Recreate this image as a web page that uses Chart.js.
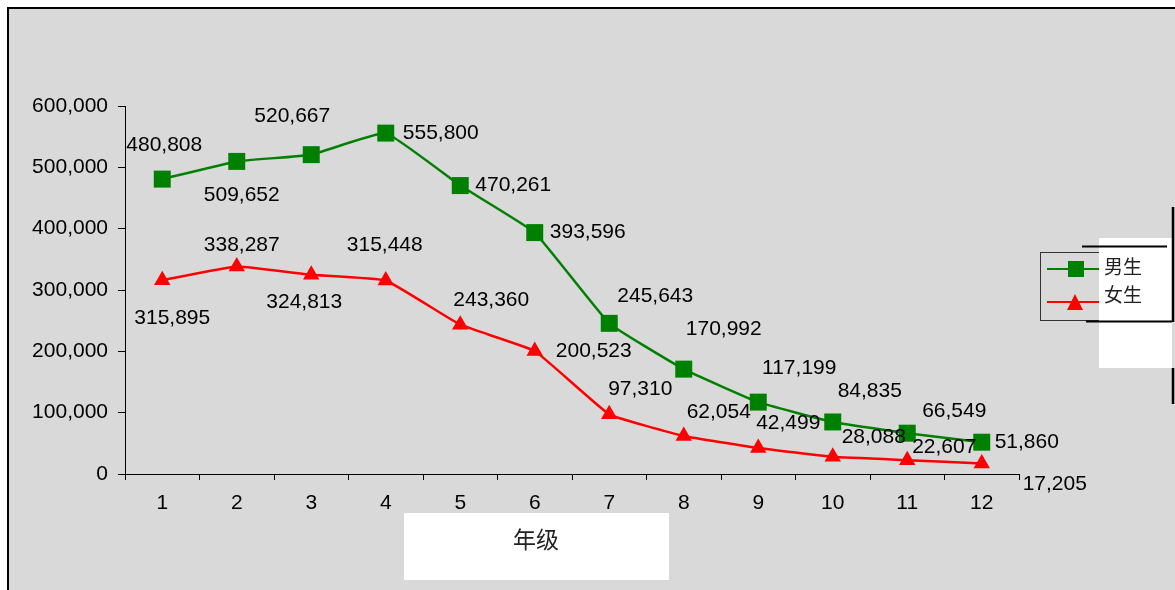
<!DOCTYPE html>
<html>
<head>
<meta charset="utf-8">
<script src="https://cdn.jsdelivr.net/npm/chart.js@4"></script>
<style>
  html, body { margin: 0; padding: 0; background: #fff; }
  #chart { display: block; }
</style>
</head>
<body>
<canvas id="chart" width="1175" height="590"></canvas>
<script>
const grades = ['1', '2', '3', '4', '5', '6', '7', '8', '9', '10', '11', '12']
const boys = [480808, 509652, 520667, 555800, 470261, 393596, 245643, 170992, 117199, 84835, 66549, 51860]
const girls = [315895, 338287, 324813, 315448, 243360, 200523, 97310, 62054, 42499, 28088, 22607, 17205]
const seriesNames = ['男生', '女生']
const axisTitle = '年级'

// label offsets from each point, in px (labels were hand-placed in the original)
const boysLabelPos = [[2, -34], [5, 34], [-19, -38], [55, 0], [53, 0], [53, 0], [46, -27], [40, -40], [41, -34], [37, -31], [47, -22], [45, 0]]
const girlsLabelPos = [[10, 38], [5, -21], [-7, 27], [-1, -35], [31, -25], [59, 0], [31, -25], [35, -24], [30, -25], [41, -20], [37, -13], [73, 21]]

const FONT = '"Liberation Sans", Arial, sans-serif'
const GREEN = '#008000'
const RED = '#ff0000'

const fmt = (v) => v.toLocaleString('en-US')

const decor = {
  id: 'decor',
  beforeDraw(chart) {
    const ctx = chart.ctx
    ctx.save()
    ctx.fillStyle = '#fff'
    ctx.fillRect(0, 0, chart.width, chart.height)
    ctx.fillStyle = '#d9d9d9'
    ctx.fillRect(7, 7, chart.width, chart.height)
    ctx.strokeStyle = '#000'
    ctx.lineWidth = 2
    ctx.beginPath()
    ctx.moveTo(8, chart.height)
    ctx.lineTo(8, 8)
    ctx.lineTo(chart.width, 8)
    ctx.stroke()
    ctx.restore()
  },
  afterDraw(chart) {
    const ctx = chart.ctx
    ctx.save()

    // data labels
    ctx.fillStyle = '#000'
    ctx.font = '21px ' + FONT
    ctx.textAlign = 'center'
    ctx.textBaseline = 'middle'
    const offs = [boysLabelPos, girlsLabelPos]
    chart.data.datasets.forEach((ds, di) => {
      chart.getDatasetMeta(di).data.forEach((pt, i) => {
        const o = offs[di][i]
        ctx.fillText(fmt(ds.data[i]), pt.x + o[0], pt.y + o[1])
      })
    })

    // axis title box
    ctx.fillStyle = '#fff'
    ctx.fillRect(404, 513, 265, 67)
    ctx.fillStyle = '#222'
    ctx.font = '23px "Noto Sans CJK SC", sans-serif'
    ctx.fillText(axisTitle, 536, 539)

    // legend
    ctx.strokeStyle = '#333'
    ctx.lineWidth = 1
    ctx.strokeRect(1040.5, 252.5, 70, 68)
    ctx.fillStyle = '#fff'
    ctx.fillRect(1099, 238, 73, 130)

    ctx.strokeStyle = '#000'
    ctx.lineWidth = 2
    ctx.beginPath()
    ctx.moveTo(1082, 246.5); ctx.lineTo(1167, 246.5)
    ctx.moveTo(1086, 321.5); ctx.lineTo(1172, 321.5)
    ctx.stroke()
    ctx.lineWidth = 2.5
    ctx.beginPath()
    ctx.moveTo(1173, 207); ctx.lineTo(1173, 322)
    ctx.moveTo(1173, 368); ctx.lineTo(1173, 404)
    ctx.stroke()

    const rows = [[269, GREEN, 'sq'], [302, RED, 'tri']]
    rows.forEach(([y, col, shape]) => {
      ctx.strokeStyle = col
      ctx.lineWidth = 2
      ctx.beginPath()
      ctx.moveTo(1047, y); ctx.lineTo(1099, y)
      ctx.stroke()
      ctx.fillStyle = col
      if (shape === 'sq') {
        ctx.fillRect(1068, y - 8, 16, 16)
      } else {
        ctx.beginPath()
        ctx.moveTo(1075, y - 8); ctx.lineTo(1083, y + 8); ctx.lineTo(1067, y + 8)
        ctx.closePath(); ctx.fill()
      }
    })
    ctx.fillStyle = '#222'
    ctx.textAlign = 'left'
    ctx.font = '19px "Noto Sans CJK SC", sans-serif'
    ctx.fillText(seriesNames[0], 1104, 267)
    ctx.fillText(seriesNames[1], 1104, 295)
    ctx.restore()
  },
}

new Chart(document.getElementById('chart'), {
  type: 'line',
  data: {
    labels: grades,
    datasets: [
      {
        label: seriesNames[0],
        data: boys,
        borderColor: GREEN,
        backgroundColor: GREEN,
        borderWidth: 2.5,
        pointStyle: 'rect',
        pointRadius: 12,
        pointBorderWidth: 0,
        tension: 0.1,
      },
      {
        label: seriesNames[1],
        data: girls,
        borderColor: RED,
        backgroundColor: RED,
        borderWidth: 2.5,
        pointStyle: 'triangle',
        pointRadius: 9.5,
        pointBorderWidth: 0,
        tension: 0.1,
      },
    ],
  },
  options: {
    responsive: false,
    animation: false,
    devicePixelRatio: 1,
    layout: { padding: { left: 7, top: 106, right: 156, bottom: 0 } },
    plugins: { legend: { display: false }, tooltip: { enabled: false } },
    scales: {
      x: {
        offset: true,
        afterFit(s) { s.height = 116 },
        grid: { offset: true, drawOnChartArea: false, tickLength: 6, color: '#000', lineWidth: 1 },
        border: { color: '#000', width: 1 },
        ticks: { color: '#000', font: { family: FONT, size: 21 }, padding: 11, maxRotation: 0 },
      },
      y: {
        min: 0,
        max: 600000,
        afterFit(s) { s.width = 118 },
        grid: { drawOnChartArea: false, tickLength: 7, color: '#000', lineWidth: 1 },
        border: { color: '#000', width: 1 },
        ticks: { stepSize: 100000, color: '#000', font: { family: FONT, size: 21 }, padding: 10, callback: (v) => fmt(v) },
      },
    },
  },
  plugins: [decor],
})
</script>
</body>
</html>
